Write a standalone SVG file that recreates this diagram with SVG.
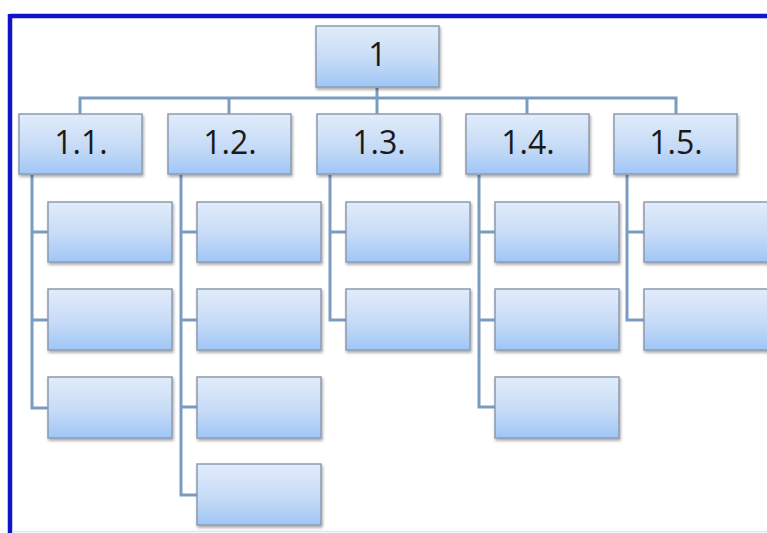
<svg xmlns="http://www.w3.org/2000/svg" width="767" height="533" viewBox="0 0 767 533">
  <defs>
    <linearGradient id="g" x1="0" y1="0" x2="0" y2="1">
      <stop offset="0" stop-color="#e2ecfb"/>
      <stop offset="0.55" stop-color="#c6dbf6"/>
      <stop offset="1" stop-color="#9fc6f6"/>
    </linearGradient>
    <filter id="sh" x="-10%" y="-10%" width="125%" height="130%">
      <feGaussianBlur in="SourceAlpha" stdDeviation="1.5"/>
      <feOffset dx="1" dy="2"/>
      <feComponentTransfer><feFuncA type="linear" slope="0.35"/></feComponentTransfer>
      <feMerge><feMergeNode/><feMergeNode in="SourceGraphic"/></feMerge>
    </filter>
  </defs>
  <style>
    .box { fill: url(#g); stroke: #8c9bb0; stroke-width: 1.5; filter: url(#sh); }
    .lbl { font-family: "Open Sans", "Noto Sans", sans-serif; font-size: 32px; fill: #1a1a1a; text-anchor: middle; }
    .con { fill: none; stroke: #7a9cc0; stroke-width: 3; }
  </style>
  <rect x="0" y="0" width="767" height="533" fill="#ffffff"/>
  <!-- frame -->
  <g id="frame">
    <line x1="10" y1="16" x2="767" y2="16" stroke="#1212c8" stroke-width="4.5"/>
    <line x1="10" y1="14" x2="10" y2="533" stroke="#1212c8" stroke-width="4.5"/>
    <line x1="12" y1="531.5" x2="767" y2="531.5" stroke="#d8e6f8" stroke-width="1.5"/>
  </g>
  <!-- connectors -->
  <g id="connectors" class="con">
    <path d="M377 88 V114"/>
    <path d="M80 114 V98 H676 V114"/>
    <path d="M229 98 V114"/>
    <path d="M527 98 V114"/>
    <path d="M32 175 V408 H48 M32 232 H48 M32 320 H48"/>
    <path d="M181 175 V495 H197 M181 232 H197 M181 320 H197 M181 407 H197"/>
    <path d="M330 175 V320 H346 M330 232 H346"/>
    <path d="M479 175 V407 H495 M479 232 H495 M479 320 H495"/>
    <path d="M627 175 V320 H644 M627 232 H644"/>
  </g>
  <g id="n1"><rect class="box" x="316" y="26" width="123" height="61"/><text class="lbl" x="377.5" y="66">1</text></g>
  <g id="n1_1"><rect class="box" x="19" y="114" width="123" height="60"/><text class="lbl" x="81" y="154">1.1.</text></g>
  <g id="n1_2"><rect class="box" x="168" y="114" width="123" height="60"/><text class="lbl" x="230" y="154">1.2.</text></g>
  <g id="n1_3"><rect class="box" x="317" y="114" width="123" height="60"/><text class="lbl" x="379" y="154">1.3.</text></g>
  <g id="n1_4"><rect class="box" x="466" y="114" width="123" height="60"/><text class="lbl" x="528" y="154">1.4.</text></g>
  <g id="n1_5"><rect class="box" x="614" y="114" width="123" height="60"/><text class="lbl" x="676" y="154">1.5.</text></g>
  <g id="c1_1"><rect class="box" x="48" y="202" width="124" height="60"/></g>
  <g id="c1_2"><rect class="box" x="48" y="289" width="124" height="61"/></g>
  <g id="c1_3"><rect class="box" x="48" y="377" width="124" height="61"/></g>
  <g id="c2_1"><rect class="box" x="197" y="202" width="124" height="60"/></g>
  <g id="c2_2"><rect class="box" x="197" y="289" width="124" height="61"/></g>
  <g id="c2_3"><rect class="box" x="197" y="377" width="124" height="61"/></g>
  <g id="c2_4"><rect class="box" x="197" y="464" width="124" height="61"/></g>
  <g id="c3_1"><rect class="box" x="346" y="202" width="124" height="60"/></g>
  <g id="c3_2"><rect class="box" x="346" y="289" width="124" height="61"/></g>
  <g id="c4_1"><rect class="box" x="495" y="202" width="124" height="60"/></g>
  <g id="c4_2"><rect class="box" x="495" y="289" width="124" height="61"/></g>
  <g id="c4_3"><rect class="box" x="495" y="377" width="124" height="61"/></g>
  <g id="c5_1"><rect class="box" x="644" y="202" width="124" height="60"/></g>
  <g id="c5_2"><rect class="box" x="644" y="289" width="124" height="61"/></g>
</svg>
